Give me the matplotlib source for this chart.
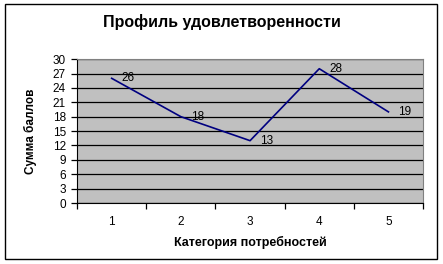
import matplotlib.pyplot as plt
from matplotlib.patches import Rectangle

plt.rcParams['font.family'] = ['Liberation Sans', 'DejaVu Sans']

categories = [1, 2, 3, 4, 5]
scores = [26, 18, 13, 28, 19]
y_ticks = list(range(0, 31, 3))

fig = plt.figure(figsize=(4.43, 2.64), dpi=100)
ax = fig.add_axes([0.174, 0.231, 0.781, 0.545])

ax.set_facecolor('#C0C0C0')
ax.plot(categories, scores, color='#000080', lw=1.2, zorder=3)
for x, y in zip(categories, scores):
    ax.annotate(str(y), (x, y), xytext=(7, 0), textcoords='offset points',
                ha='left', va='center', fontsize=8.5, zorder=4)

ax.set_xlim(0.5, 5.5)
ax.set_ylim(0, 30)
ax.set_yticks(y_ticks)
ax.yaxis.grid(True, color='black', lw=0.9)
ax.set_axisbelow(True)

# category axis: ticks between categories, labels centred
ax.set_xticks([0.5, 1.5, 2.5, 3.5, 4.5, 5.5])
ax.set_xticklabels([])
ax.set_xticks(categories, minor=True)
ax.set_xticklabels([str(c) for c in categories], minor=True)
ax.tick_params(axis='x', which='major', length=4, width=0.9, color='black')
ax.tick_params(axis='x', which='minor', length=0, pad=9, labelsize=8.5)
ax.tick_params(axis='y', length=4, width=0.9, labelsize=8.5, pad=4)

for s in ['top', 'right']:
    ax.spines[s].set_color('#808080')
for s in ['left', 'bottom']:
    ax.spines[s].set_color('black')

ax.set_xlabel('Категория потребностей', fontsize=9, fontweight='bold', labelpad=6)
ax.set_ylabel('Сумма баллов', fontsize=8.5, fontweight='bold', labelpad=11)
fig.text(0.5, 0.915, 'Профиль удовлетворенности', ha='center', va='center',
         fontsize=11.5, fontweight='bold')

fig.patches.append(Rectangle((0.012, 0.02), 0.975, 0.965, transform=fig.transFigure,
                             fill=False, edgecolor='black', lw=1))

fig.savefig('out.png', dpi=100)
